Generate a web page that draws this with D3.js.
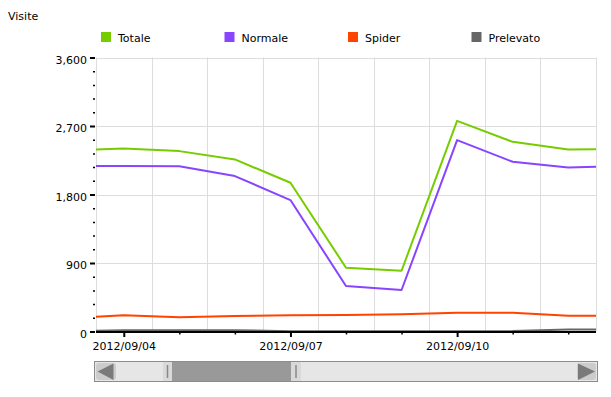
<!DOCTYPE html>
<html>
<head>
<meta charset="utf-8">
<script src="https://cdn.jsdelivr.net/npm/d3@7"></script>
<style>
  html, body { margin: 0; padding: 0; background: #fff; }
  svg { display: block; font-family: "DejaVu Sans", Verdana, sans-serif; }
</style>
</head>
<body>
<svg id="chart" width="611" height="397"></svg>
<script>
// ---- data ----
const dates = ["2012-09-03","2012-09-04","2012-09-05","2012-09-06","2012-09-07","2012-09-08","2012-09-09","2012-09-10","2012-09-11","2012-09-12","2012-09-13"];
const totale    = [2381, 2403, 2370, 2261, 1954, 838, 798, 2768, 2492, 2392, 2400];
const normale   = [2175, 2173, 2172, 2042, 1727, 597, 545, 2515, 2230, 2156, 2172];
const spider    = [176, 212, 186, 204, 215, 217, 228, 247, 247, 207, 207];
const prelevato = [5, 15, 18, 18, 3, 2, 2, 3, 5, 25, 30];
const seriesNames = ["Totale", "Normale", "Spider", "Prelevato"];
const seriesColors = ["#77cc00", "#8844ff", "#ff4400", "#666666"];
const yMajorTicks = [0, 900, 1800, 2700, 3600];
const xLabelDates = ["2012-09-04", "2012-09-07", "2012-09-10"];
const domainStart = "2012-09-03T12:00:00";
const domainEnd = "2012-09-12T12:00:00";

const parse = d3.timeParse("%Y-%m-%d");
const parseT = d3.timeParse("%Y-%m-%dT%H:%M:%S");
const fmt = d3.timeFormat("%Y/%m/%d");
const dayKey = d3.timeFormat("%Y-%m-%d");

const svg = d3.select("#chart");
const L = 96, R = 596, T = 57.5, B = 331.5;

const x = d3.scaleTime().domain([parseT(domainStart), parseT(domainEnd)]).range([L, R]);
const y = d3.scaleLinear().domain([0, 3600]).range([B, T]);

// title
svg.append("text").attr("x", 8).attr("y", 19.5).attr("font-size", 11).attr("fill", "#000").text("Visite");

// legend
seriesNames.forEach((n, i) => {
  const lx = 101 + i * 123.5;
  svg.append("rect").attr("x", lx).attr("y", 32).attr("width", 10).attr("height", 10).attr("fill", seriesColors[i]);
  svg.append("text").attr("x", lx + 17).attr("y", 41.5).attr("font-size", 11).attr("fill", "#000").text(n);
});

// grid (vertical lines at noon of each day)
const gridX = d3.range(0, 10).map(i => d3.timeHour.offset(parseT(domainStart), 24 * i));
svg.append("g").selectAll("line").data(gridX).join("line")
  .attr("x1", d => Math.round(x(d)) + 0.5).attr("x2", d => Math.round(x(d)) + 0.5)
  .attr("y1", T).attr("y2", B)
  .attr("stroke", "#dddddd").attr("stroke-width", 1);
svg.append("g").selectAll("line").data(yMajorTicks.slice(1)).join("line")
  .attr("x1", L).attr("x2", R)
  .attr("y1", d => Math.round(y(d)) + 0.5).attr("y2", d => Math.round(y(d)) + 0.5)
  .attr("stroke", "#dddddd").attr("stroke-width", 1);

// clip
svg.append("clipPath").attr("id", "clip").append("rect")
  .attr("x", L).attr("y", 0).attr("width", R - L).attr("height", B + 2);

const allSeries = [totale, normale, spider, prelevato];
const line = d3.line().x((d, i) => x(parse(dates[i]))).y(d => y(d));
const gLines = svg.append("g").attr("clip-path", "url(#clip)");
for (let i = allSeries.length - 1; i >= 0; i--) {
  gLines.append("path").datum(allSeries[i])
    .attr("d", (d) => line(d))
    .attr("fill", "none").attr("stroke", seriesColors[i]).attr("stroke-width", 2)
    .attr("stroke-linejoin", "round");
}

// y axis
const yMinor = d3.range(0, 3601, 180);
const yAxis = d3.axisLeft(y).tickValues(yMinor)
  .tickSize(0).tickFormat(d => yMajorTicks.includes(d) ? d3.format(",")(d) : "");
const gy = svg.append("g").attr("transform", `translate(${L},0)`).call(yAxis);
gy.select(".domain").remove();
gy.selectAll(".tick line")
  .attr("x1", -1)
  .attr("x2", d => yMajorTicks.includes(d) ? -6 : -3)
  .attr("stroke", "#000").attr("stroke-width", d => yMajorTicks.includes(d) ? 2 : 1.5);
gy.selectAll(".tick text")
  .attr("x", -9).attr("dy", "0.5em")
  .attr("font-size", 11).attr("font-family", "DejaVu Sans, Verdana, sans-serif").attr("fill", "#000");

// x axis
const xTickDates = dates.slice(1, 10).map(parse);
const xAxis = d3.axisBottom(x).tickValues(xTickDates).tickSize(0)
  .tickFormat(d => xLabelDates.includes(dayKey(d)) ? fmt(d) : "");
const gx = svg.append("g").attr("transform", `translate(0,${B})`).call(xAxis);
gx.select(".domain").remove();
gx.selectAll(".tick line")
  .attr("y1", 0)
  .attr("y2", d => xLabelDates.includes(dayKey(d)) ? 5.5 : 3)
  .attr("stroke", "#000").attr("stroke-width", d => xLabelDates.includes(dayKey(d)) ? 2 : 1.5);
gx.selectAll(".tick text")
  .attr("y", 18.5).attr("dy", 0)
  .attr("font-size", 11).attr("font-family", "DejaVu Sans, Verdana, sans-serif").attr("fill", "#000");
svg.append("line").attr("x1", L).attr("x2", R).attr("y1", B + 0.5).attr("y2", B + 0.5)
  .attr("stroke", "#000").attr("stroke-width", 2);

// scrollbar (decorative)
const sb = svg.append("g");
sb.append("rect").attr("x", 94.5).attr("y", 361.5).attr("width", 503).attr("height", 20)
  .attr("fill", "#e6e6e6").attr("stroke", "#8c8c8c").attr("stroke-width", 1);
sb.append("rect").attr("x", 96).attr("y", 363).attr("width", 20).attr("height", 17).attr("rx", 3)
  .attr("fill", "#cccccc");
sb.append("path").attr("d", "M97.5,371.5 L113.5,363.5 L113.5,380 Z").attr("fill", "#7a7a7a");
sb.append("rect").attr("x", 577).attr("y", 363).attr("width", 19).attr("height", 17).attr("rx", 3)
  .attr("fill", "#cccccc");
sb.append("path").attr("d", "M578,363.5 L595,371.5 L578,380 Z").attr("fill", "#7a7a7a");
sb.append("rect").attr("x", 163).attr("y", 362).attr("width", 9).attr("height", 19).attr("fill", "#d9d9d9");
sb.append("rect").attr("x", 172).attr("y", 362).attr("width", 119).attr("height", 19).attr("fill", "#999999");
sb.append("rect").attr("x", 291).attr("y", 362).attr("width", 10).attr("height", 19).attr("fill", "#d9d9d9");
sb.append("line").attr("x1", 167.5).attr("x2", 167.5).attr("y1", 365).attr("y2", 378).attr("stroke", "#888").attr("stroke-width", 1.5);
sb.append("line").attr("x1", 296).attr("x2", 296).attr("y1", 365).attr("y2", 378).attr("stroke", "#888").attr("stroke-width", 1.5);
</script>
</body>
</html>
